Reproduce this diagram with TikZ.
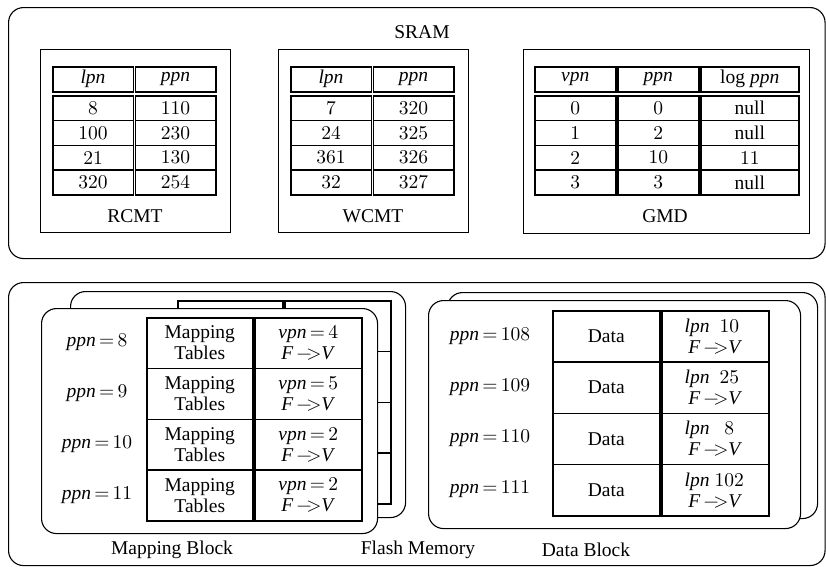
\documentclass[tikz,border=0pt]{standalone}
\usepackage{fontspec}
\setmainfont{Liberation Serif}
\newfontfamily\lmfont{lmroman10-regular.otf}
\newcommand\dg[1]{{\lmfont #1}}
\newcommand\fv{\textit{F}\,{\lmfont −\kern-0.28em>}\textit{V}}
\newcommand\eqs{\,{\lmfont =}\,}
\begin{document}
\begin{tikzpicture}[x=1pt,y=-1pt,
  every node/.style={font=\fontsize{19.5}{21}\selectfont},
  outer/.style={draw, rounded corners=15pt, line width=1.1pt, inner sep=0pt, anchor=north west},
  card/.style={draw, fill=white, rounded corners=15pt, line width=1.1pt, inner sep=0pt, anchor=north west},
  sqbox/.style={draw, line width=1.3pt, inner sep=0pt, anchor=north west},
  cell/.style={draw, line width=1.5pt, inner sep=0pt, anchor=north west, align=center},
  lbl/.style={inner sep=0pt}]
\useasboundingbox (0,0) rectangle (826,566);

% ---------------- SRAM ----------------
\node[outer, minimum width=816.5pt, minimum height=251pt] (sram) at (8,7) {};
\node[lbl] (sramlbl) at (422,32) {SRAM};

% RCMT
\node[sqbox, minimum width=190pt, minimum height=183pt] (rcmt) at (40,49) {};
\node[lbl] (rcmtlbl) at (135,216) {RCMT};
\node[cell, minimum width=80.5pt, minimum height=25pt] (rh1) at (52,66) {\textit{lpn}};
\node[cell, minimum width=80.5pt, minimum height=25pt] (rh2) at (134.5,66) {\textit{ppn}};
\foreach \a/\b [count=\i] in {8/110,100/230,21/130,320/254}{
  \node[cell, minimum width=80.5pt, minimum height=24.75pt] (ra\i) at (52,{95+(\i-1)*24.75}) {\dg{\a}};
  \node[cell, minimum width=80.5pt, minimum height=24.75pt] (rb\i) at (134.5,{95+(\i-1)*24.75}) {\dg{\b}};
}

% WCMT
\node[sqbox, minimum width=190pt, minimum height=183pt] (wcmt) at (278,49) {};
\node[lbl] (wcmtlbl) at (373,216) {WCMT};
\node[cell, minimum width=80.5pt, minimum height=25pt] (wh1) at (290,66) {\textit{lpn}};
\node[cell, minimum width=80.5pt, minimum height=25pt] (wh2) at (372.5,66) {\textit{ppn}};
\foreach \a/\b [count=\i] in {7/320,24/325,361/326,32/327}{
  \node[cell, minimum width=80.5pt, minimum height=24.75pt] (wa\i) at (290,{95+(\i-1)*24.75}) {\dg{\a}};
  \node[cell, minimum width=80.5pt, minimum height=24.75pt] (wb\i) at (372.5,{95+(\i-1)*24.75}) {\dg{\b}};
}

% GMD
\node[sqbox, minimum width=286pt, minimum height=184pt] (gmd) at (523,49) {};
\node[lbl] (gmdlbl) at (665,216) {GMD};
\node[cell, minimum width=81pt, minimum height=25pt] (gh1) at (534,66) {\textit{vpn}};
\node[cell, minimum width=81pt, minimum height=25pt] (gh2) at (617,66) {\textit{ppn}};
\node[cell, minimum width=98pt, minimum height=25pt] (gh3) at (700,66) {log \textit{ppn}};
\foreach \a/\b/\c [count=\i] in {0/0/null,1/2/null,2/10/\dg{11},3/3/null}{
  \node[cell, minimum width=81pt, minimum height=24.75pt] (ga\i) at (534,{95+(\i-1)*24.75}) {\dg{\a}};
  \node[cell, minimum width=81pt, minimum height=24.75pt] (gb\i) at (617,{95+(\i-1)*24.75}) {\dg{\b}};
  \node[cell, minimum width=98pt, minimum height=24.75pt] (gc\i) at (700,{95+(\i-1)*24.75}) {\c};
}

% ---------------- Flash Memory ----------------
\node[outer, minimum width=816.5pt, minimum height=283pt] (flash) at (8,282) {};

% Mapping block (back card with its table)
\node[card, minimum width=335pt, minimum height=226pt] (mapback) at (70,291) {};
\foreach \i in {1,...,4}{
  \node[cell, minimum width=105pt, minimum height=50.75pt] (mba\i) at (177,{300+(\i-1)*50.75}) {};
  \node[cell, minimum width=106pt, minimum height=50.75pt] (mbb\i) at (284,{300+(\i-1)*50.75}) {};
}
% Mapping block (front card)
\node[card, minimum width=336pt, minimum height=225pt] (mapfront) at (41,308) {};
\foreach \p/\v [count=\i] in {8/4,9/5,10/2,11/2}{
  \node[lbl] (mp\i) at (97,{317+(\i-0.5)*50.75}) {\textit{ppn}\eqs\dg{\p}};
  \node[cell, minimum width=106pt, minimum height=50.75pt] (mfa\i) at (146,{317+(\i-1)*50.75}) {Mapping\\Tables};
  \node[cell, minimum width=107pt, minimum height=50.75pt] (mfb\i) at (254,{317+(\i-1)*50.75}) {\textit{vpn}\eqs\dg{\v}\\\fv};
}

% Data block
\node[card, minimum width=370pt, minimum height=226pt] (databack) at (447,292) {};
\node[card, minimum width=372pt, minimum height=228pt] (datafront) at (428,300) {};
\foreach \p/\l [count=\i] in {108/10,109/25,110/8,111/102}{
  \node[lbl] (dp\i) at (490,{310+(\i-0.5)*51.25}) {\textit{ppn}\eqs\dg{\p}};
  \node[cell, minimum width=107pt, minimum height=51.25pt] (dfa\i) at (552,{310+(\i-1)*51.25}) {Data};
  \node[cell, minimum width=107pt, minimum height=51.25pt] (dfb\i) at (661,{310+(\i-1)*51.25}) {\textit{lpn}\,\makebox[1.7em]{\dg{\l}}\\\fv};
}

% bottom labels
\node[lbl] (mblbl) at (172,550) {Mapping Block};
\node[lbl] (fmlbl) at (418,550) {Flash Memory};
\node[lbl] (dblbl) at (586,550) {Data Block};
\end{tikzpicture}
\end{document}
